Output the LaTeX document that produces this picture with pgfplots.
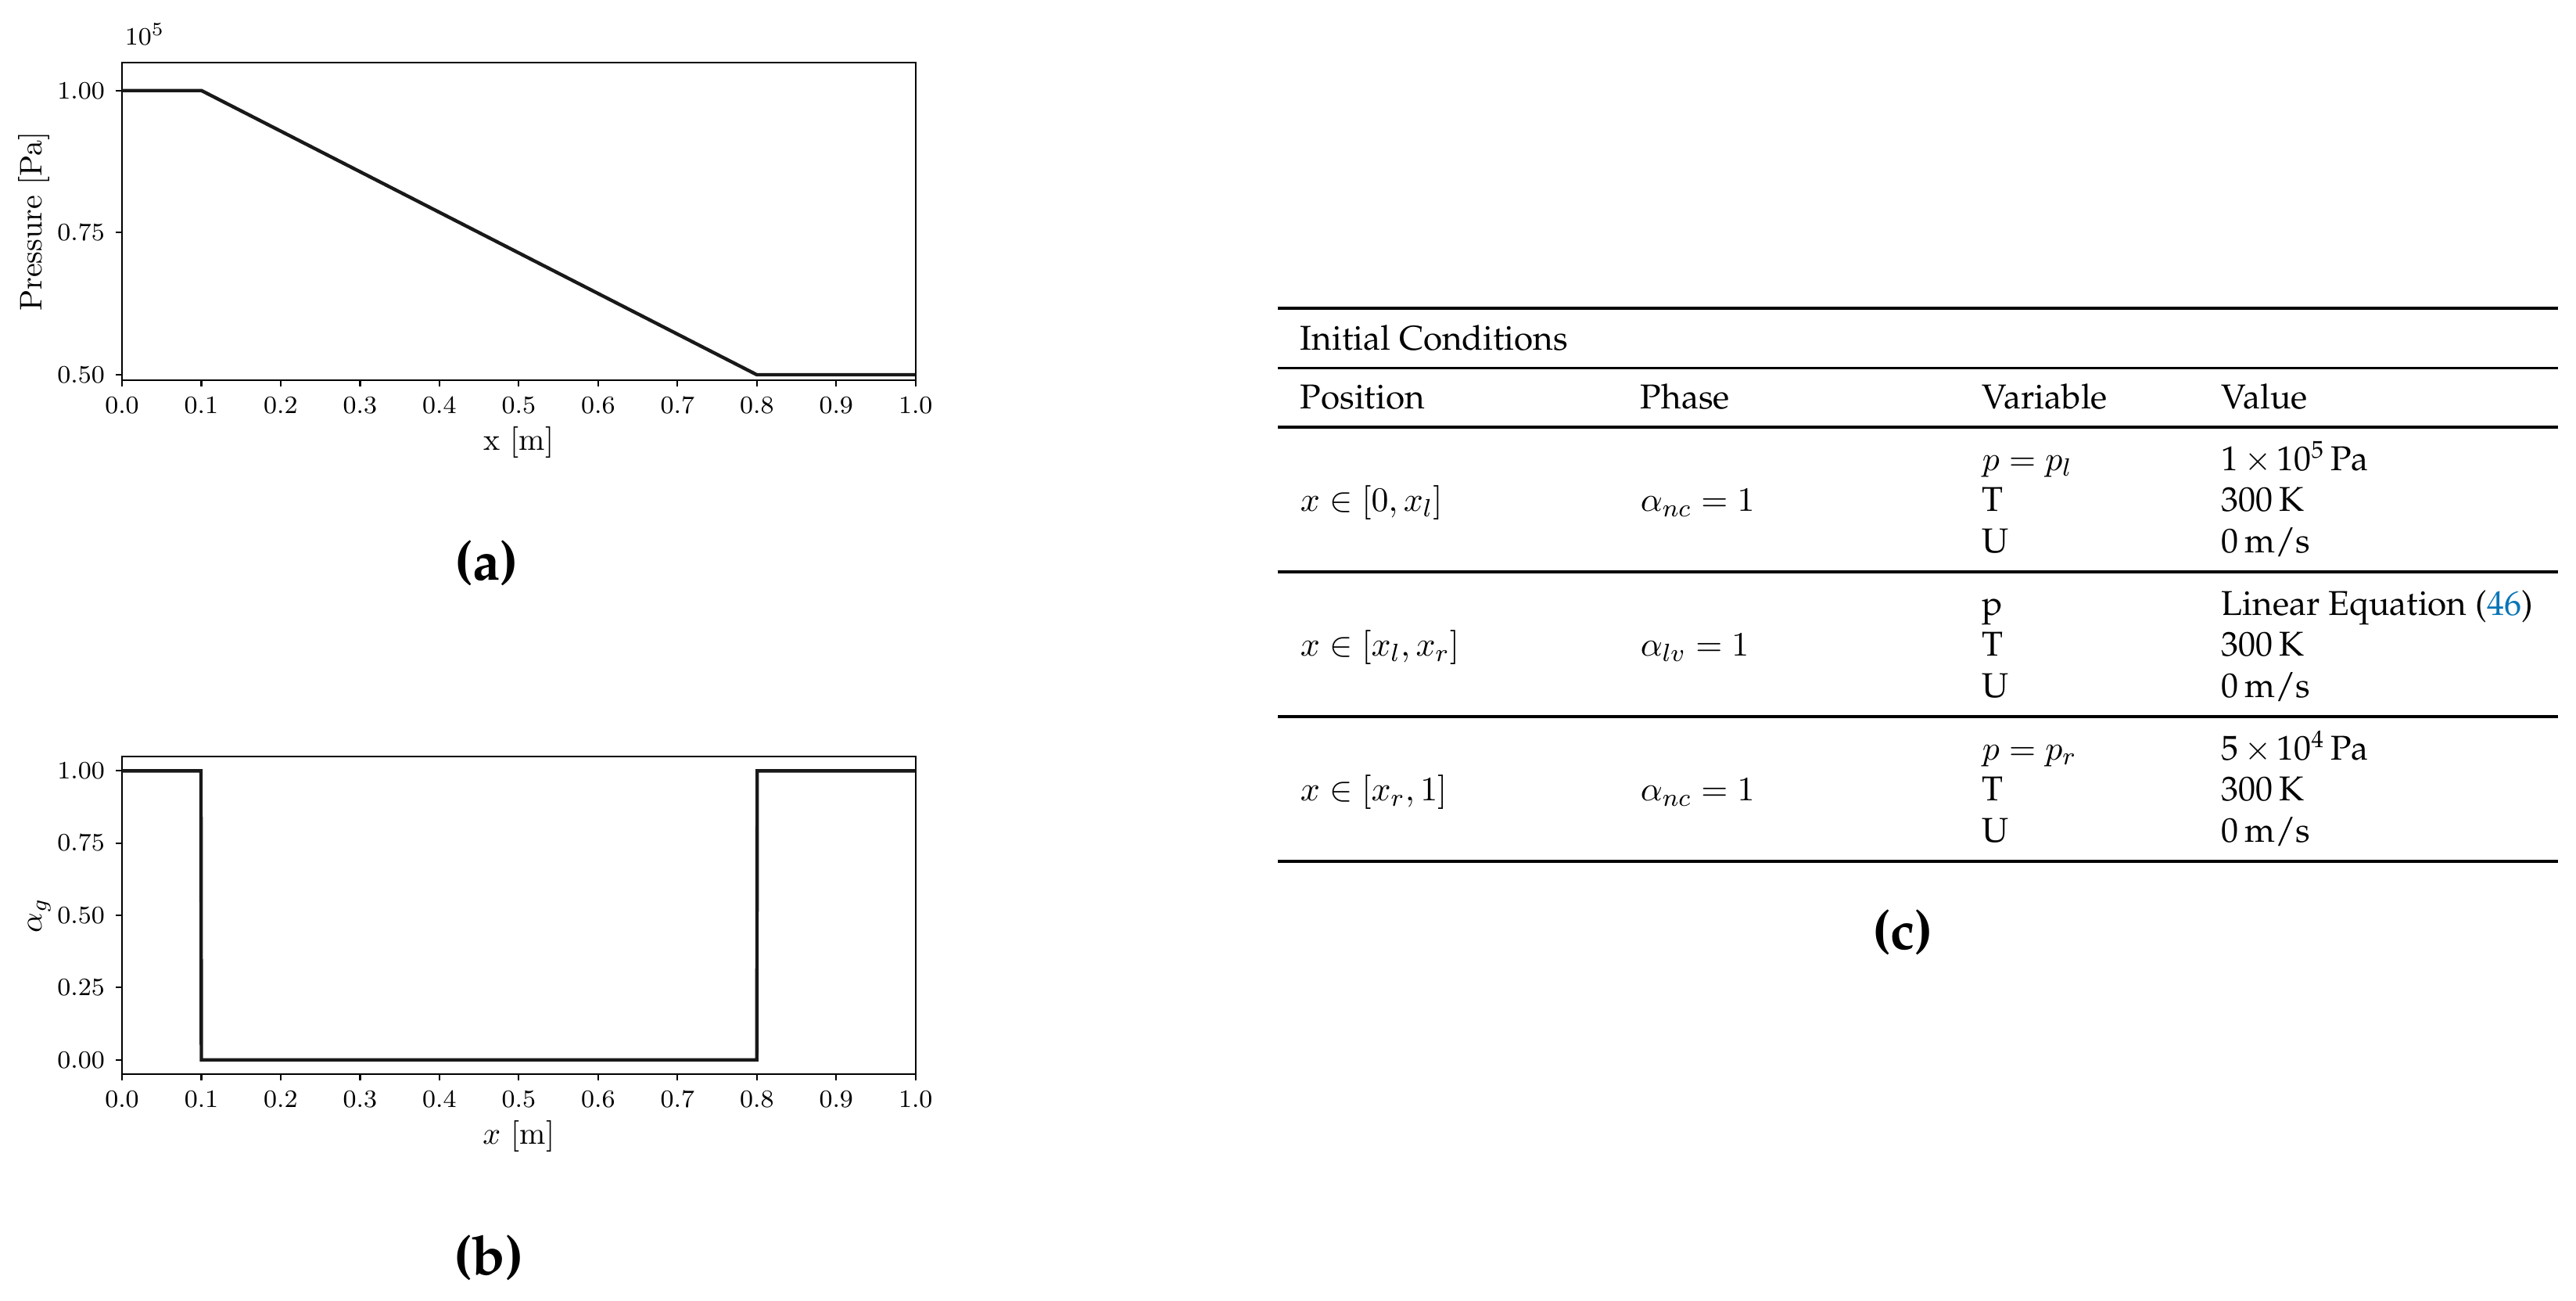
\documentclass[border=0pt]{standalone}
\usepackage[T1,TU]{fontenc}
\usepackage{pgfplots}
\pgfplotsset{compat=1.18}
\definecolor{linkblue}{RGB}{8,117,183}
\newcommand\pal{\fontencoding{T1}\fontfamily{ppl}\fontseries{m}\fontshape{n}\fontsize{11}{13}\selectfont}
\newcommand\palb{\fontencoding{T1}\fontfamily{ppl}\fontseries{b}\fontshape{n}\fontsize{17.5}{20}\selectfont}
\begin{document}
\begin{tikzpicture}
\path[use as bounding box] (0pt,0pt) rectangle (823.5pt,-415.5pt);
\pgfplotsset{
  myax/.style={
    scale only axis, width=253.68pt,
    xmin=0, xmax=1,
    xtick={0,0.1,0.2,0.3,0.4,0.5,0.6,0.7,0.8,0.9,1.0},
    tick align=outside, tick pos=left, major tick length=2pt,
    every tick/.style={black, line width=0.55pt},
    axis line style={line width=0.55pt, black},
    ticklabel style={font=\fontsize{8.4}{10}\selectfont},
    xticklabel style={/pgf/number format/fixed, /pgf/number format/fixed zerofill, /pgf/number format/precision=1},
    yticklabel style={/pgf/number format/fixed, /pgf/number format/fixed zerofill, /pgf/number format/precision=2},
    label style={font=\fontsize{10}{12}\selectfont},
    xlabel style={at={(axis description cs:0.5,0)}, anchor=base, yshift=-22.25pt},
    ylabel style={at={(axis description cs:-0.1015,0.5)}, anchor=base},
  }
}
\begin{axis}[myax, at={(39pt,-121.5pt)}, anchor=south west, height=101.5pt,
  ymin=49037, ymax=104910, ytick={50000,75000,100000},
  scaled y ticks=base 10:-5,
  ytick scale label code/.code={$10^{#1}$},
  every y tick scale label/.style={at={(axis description cs:0,1)}, anchor=base west, inner sep=0pt, xshift=0.75pt, yshift=5.75pt, font=\fontsize{8.4}{10}\selectfont},
  xlabel={x [m]}, ylabel={Pressure [Pa]}]
\addplot[black!90, line width=1.1pt] coordinates {(0,100000) (0.1,100000) (0.8,50000) (1,50000)};
\end{axis}
\begin{axis}[myax, at={(39pt,-343.3pt)}, anchor=south west, height=101.6pt,
  ymin=-0.05, ymax=1.05, ytick={0,0.25,0.5,0.75,1},
  xlabel={$x$ [m]}, ylabel={$\alpha_g$}]
\addplot[black!90, line width=1.1pt] coordinates {(0,1) (0.0995,1) (0.1,0) (0.8,0) (0.8005,1) (1,1)};
\end{axis}
\begin{scope}[x=0.25pt, y=-0.25pt]
\draw[line width=1.05pt] (1634,394) -- (3271,394);
\draw[line width=0.65pt] (1634,470.5) -- (3271,470.5);
\draw[line width=0.85pt] (1634,546) -- (3271,546);
\draw[line width=0.8pt] (1634,731) -- (3271,731);
\draw[line width=0.8pt] (1634,916) -- (3271,916);
\draw[line width=1.05pt] (1634,1101) -- (3271,1101);
\tikzset{t/.style={anchor=base west, inner sep=0pt, font=\pal}}
\node[t] at (1662,447) {Initial Conditions};
\node[t] at (1662,522) {Position};
\node[t] at (2097,522) {Phase};
\node[t] at (2534,522) {Variable};
\node[t] at (2840,522) {Value};
% row 1
\node[t] at (1662,653.5) {$x \in [0, x_l]$};
\node[t] at (2097,653.5) {$\alpha_{nc} = 1$};
\node[t] at (2534,601) {$p = p_l$};
\node[t] at (2534,653.5) {T};
\node[t] at (2534,706) {U};
\node[t] at (2840,601) {1\,$\times$\,10\textsuperscript{5}\,Pa};
\node[t] at (2840,653.5) {300\,K};
\node[t] at (2840,706) {0\,m/s};
% row 2
\node[t] at (1662,838.5) {$x \in [x_l, x_r]$};
\node[t] at (2097,838.5) {$\alpha_{lv} = 1$};
\node[t] at (2534,786) {p};
\node[t] at (2534,838.5) {T};
\node[t] at (2534,891) {U};
\node[t] at (2840,786) {Linear Equation (\textcolor{linkblue}{46})};
\node[t] at (2840,838.5) {300\,K};
\node[t] at (2840,891) {0\,m/s};
% row 3
\node[t] at (1662,1023.5) {$x \in [x_r, 1]$};
\node[t] at (2097,1023.5) {$\alpha_{nc} = 1$};
\node[t] at (2534,971) {$p = p_r$};
\node[t] at (2534,1023.5) {T};
\node[t] at (2534,1076) {U};
\node[t] at (2840,971) {5\,$\times$\,10\textsuperscript{4}\,Pa};
\node[t] at (2840,1023.5) {300\,K};
\node[t] at (2840,1076) {0\,m/s};
% panel labels
\node[inner sep=0pt, font=\palb] at (622,720) {(a)};
\node[inner sep=0pt, font=\palb] at (625,1608) {(b)};
\node[inner sep=0pt, font=\palb] at (2433,1192) {(c)};
\end{scope}
\end{tikzpicture}
\end{document}
